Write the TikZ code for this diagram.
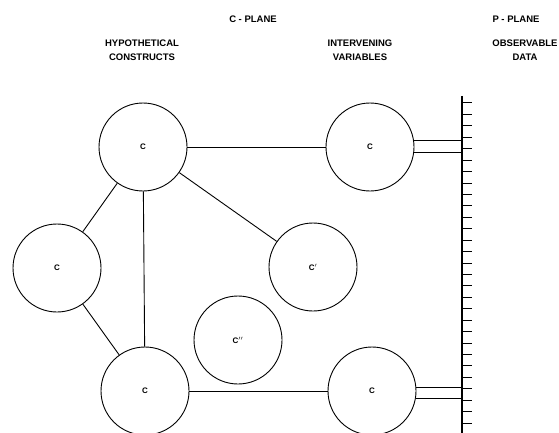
\documentclass[tikz,border=0pt]{standalone}
\usepackage{fontspec}
\setmainfont{Liberation Sans}
\begin{document}
\begin{tikzpicture}[x=1pt,y=-1pt,
  construct/.style={draw,circle,minimum size=88pt,inner sep=0pt,line width=0.9pt,
    font=\fontsize{8}{9}\selectfont\bfseries},
  link/.style={line width=0.9pt},
  heading/.style={font=\fontsize{9.5}{11}\selectfont\bfseries,align=center,inner sep=0pt},
  tick/.style={line width=1pt}]
\useasboundingbox (0,0) rectangle (559,433);

% headings
\node[heading] (cplane) at (253,19) {C - PLANE};
\node[heading] (pplane) at (516,19) {P - PLANE};
\node[heading] (hypo) at (142,50.5) {HYPOTHETICAL\\[3pt]CONSTRUCTS};
\node[heading] (inter) at (360,50.5) {INTERVENING\\[3pt]VARIABLES};
\node[heading] (obs) at (525,50.5) {OBSERVABLE\\[3pt]DATA};

% constructs of the C-plane
\node[construct] (cTop)  at (143,147) {C};
\node[construct] (cLeft) at (57,268)  {C};
\node[construct] (cBot)  at (145,391) {C};
\node[construct] (cP)    at (313,267) {C$'$};
\node[construct] (cPP)   at (238,340) {C$''$};
\node[construct] (vTop)  at (370,147) {C};
\node[construct] (vBot)  at (372,391) {C};

% P-plane axis with its ticks
\coordinate (axTop) at (462,96);
\coordinate (axBot) at (462,433);
\draw[line width=1.3pt] (axTop) -- (axBot);
\foreach \k in {0,...,28}
  \draw[tick] (462,103+11.43*\k) -- ++(9.5,0);

% connections among constructs
\draw[link] (cTop) -- (cLeft);
\draw[link] (cLeft) -- (cBot);
\draw[link] (cTop) -- (cBot);
\draw[link] (cTop) -- (cP);
\draw[link] (cTop) -- (vTop);
\draw[link] (cBot) -- (vBot);

% operational links to the observable data
\draw[link] (vTop.9)  -- (vTop.9 -| axTop);
\draw[link] (vTop.-7) -- (vTop.-7 -| axTop);
\draw[link] (vBot.5)  -- (vBot.5 -| axTop);
\draw[link] (vBot.-10) -- (vBot.-10 -| axTop);
\end{tikzpicture}
\end{document}
